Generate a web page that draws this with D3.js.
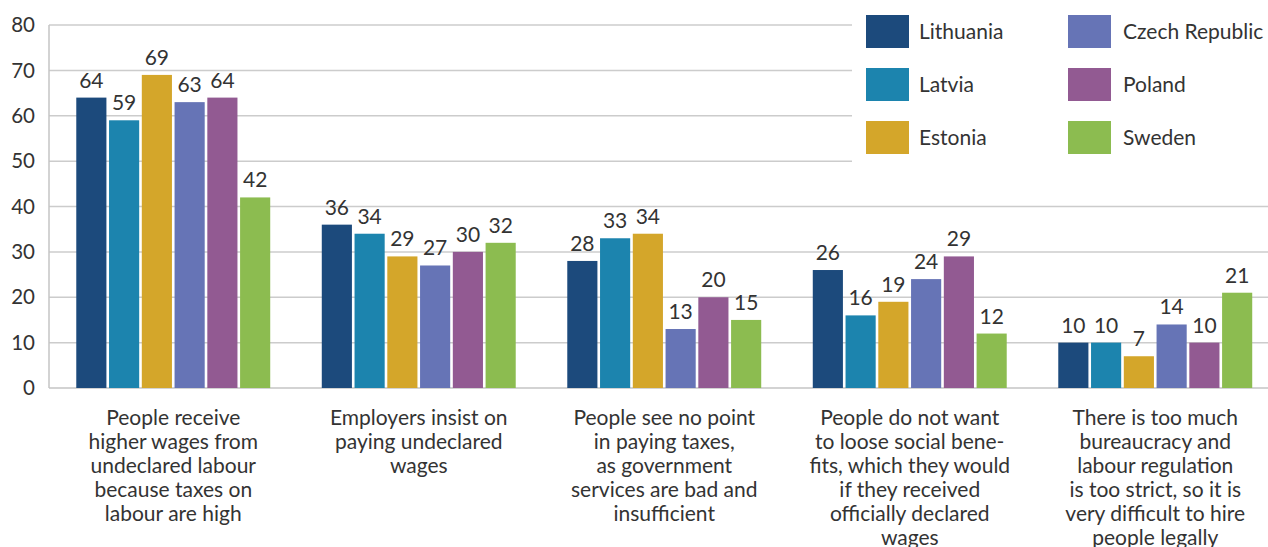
<!DOCTYPE html>
<html><head><meta charset="utf-8">
<script src="https://cdn.jsdelivr.net/npm/d3@7"></script>
<style>body{margin:0;background:#fff}svg{display:block;font-family:Lato,"Open Sans",sans-serif}</style>
</head><body><svg id="c" width="1268" height="547"></svg>
<script>
const categories = [
  ["People receive","higher wages from","undeclared labour","because taxes on","labour are high"],
  ["Employers insist on","paying undeclared","wages"],
  ["People see no point","in paying taxes,","as government","services are bad and","insufficient"],
  ["People do not want","to loose social bene-","fits, which they would","if they received","officially declared","wages"],
  ["There is too much","bureaucracy and","labour regulation","is too strict, so it is","very difficult to hire","people legally"]
];
const countries = ["Lithuania","Latvia","Estonia","Czech Republic","Poland","Sweden"];
const colors = ["#1c4a7c","#1c84ae","#d4a62a","#6674b6","#925a92","#8cbc50"];
const Lithuania = [64,36,28,26,10];
const Latvia = [59,34,33,16,10];
const Estonia = [69,29,34,19,7];
const Czech = [63,27,13,24,14];
const Poland = [64,30,20,29,10];
const Sweden = [42,32,15,12,21];
const series = [Lithuania,Latvia,Estonia,Czech,Poland,Sweden];
const yTicks = [0,10,20,30,40,50,60,70,80];

(function(){
const svg = d3.select("#c");
const mL = 49, mT = 25, mB = 388, mR = 1278;
const y = d3.scaleLinear().domain([0,80]).range([mB, mT]);
const x0 = d3.scaleBand().domain(d3.range(5)).range([50.5, mR]).paddingInner(0.21).paddingOuter(0.105);
const x1 = d3.scaleBand().domain(d3.range(6)).range([0, x0.bandwidth()]).paddingInner(0.08);

svg.append("g").selectAll("line").data(yTicks.slice(1)).join("line")
  .attr("x1", mL).attr("x2", 1268).attr("y1", d=>y(d)).attr("y2", d=>y(d))
  .attr("stroke","#cccccc").attr("stroke-width",1.5);
svg.append("line").attr("x1",mL).attr("x2",mL).attr("y1",mT).attr("y2",mB).attr("stroke","#c4c4c4").attr("stroke-width",1.5);
svg.append("line").attr("x1",mL).attr("x2",1268).attr("y1",mB).attr("y2",mB).attr("stroke","#c4c4c4").attr("stroke-width",1.5);

svg.append("g").selectAll("text").data(yTicks).join("text")
  .attr("x", 35).attr("y", d=>y(d)).attr("dy","0.35em").attr("text-anchor","end")
  .attr("font-size",20.5).attr("fill","#333").text(d=>d);

const g = svg.append("g").selectAll("g").data(d3.range(5)).join("g")
  .attr("transform", i=>`translate(${x0(i)},0)`);
g.selectAll("rect").data(i=>series.map((s,k)=>({k,v:s[i]}))).join("rect")
  .attr("x", d=>x1(d.k)).attr("width", x1.bandwidth())
  .attr("y", d=>y(d.v)).attr("height", d=>mB - y(d.v))
  .attr("fill", d=>colors[d.k]);
g.selectAll("text").data(i=>series.map((s,k)=>({k,v:s[i]}))).join("text")
  .attr("x", d=>x1(d.k)+x1.bandwidth()/2).attr("y", d=>y(d.v)-10)
  .attr("text-anchor","middle").attr("font-size",21).attr("fill","#333").text(d=>d.v);

const cl = svg.append("g").selectAll("text").data(categories).join("text")
  .attr("x",(d,i)=>x0(i)+x0.bandwidth()/2).attr("y",418).attr("text-anchor","middle")
  .attr("font-size",21).attr("fill","#333");
cl.each(function(d){
  const t = d3.select(this), cx = t.attr("x");
  t.selectAll("tspan").data(d).join("tspan").attr("x",cx)
   .attr("y",(s,j)=>418+j*24).attr("dy","0.35em").text(s=>s);
});

svg.append("rect").attr("x",852).attr("y",0).attr("width",416).attr("height",165).attr("fill","#fff");
const lg = svg.append("g").selectAll("g").data(countries).join("g")
  .attr("transform",(d,i)=>`translate(${i<3?866:1068},${15+(i%3)*53})`);
lg.append("rect").attr("width",43).attr("height",33).attr("fill",(d,i)=>colors[i]);
lg.append("text").attr("x",(d,i)=>i<3?53:55).attr("y",16.5).attr("dy","0.35em")
  .attr("font-size",21).attr("fill","#333").text(d=>d);
})();
</script></body></html>
